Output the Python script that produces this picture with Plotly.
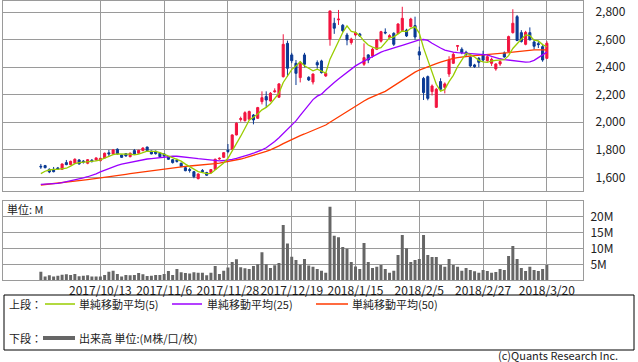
import plotly.graph_objects as go

W, H = 638, 362
def px(x): return x / W
def py(y): return 1 - y / H

dates = [
    "2017/9/22", "2017/9/25", "2017/9/26", "2017/9/27", "2017/9/28", "2017/9/29",
    "2017/10/2", "2017/10/3", "2017/10/4", "2017/10/5", "2017/10/6",
    "2017/10/10", "2017/10/11", "2017/10/12", "2017/10/13",
    "2017/10/16", "2017/10/17", "2017/10/18", "2017/10/19", "2017/10/20",
    "2017/10/23", "2017/10/24", "2017/10/25", "2017/10/26", "2017/10/27",
    "2017/10/30", "2017/10/31", "2017/11/1", "2017/11/2", "2017/11/6",
    "2017/11/7", "2017/11/8", "2017/11/9", "2017/11/10",
    "2017/11/13", "2017/11/14", "2017/11/15", "2017/11/16", "2017/11/17",
    "2017/11/20", "2017/11/21", "2017/11/22", "2017/11/24", "2017/11/27", "2017/11/28",
    "2017/11/29", "2017/11/30", "2017/12/1",
    "2017/12/4", "2017/12/5", "2017/12/6", "2017/12/7", "2017/12/8",
    "2017/12/11", "2017/12/12", "2017/12/13", "2017/12/14", "2017/12/15",
    "2017/12/18", "2017/12/19", "2017/12/20", "2017/12/21", "2017/12/22",
    "2017/12/25", "2017/12/26", "2017/12/27", "2017/12/28", "2017/12/29",
    "2018/1/4", "2018/1/5", "2018/1/9", "2018/1/10", "2018/1/11", "2018/1/12", "2018/1/15",
    "2018/1/16", "2018/1/17", "2018/1/18", "2018/1/19",
    "2018/1/22", "2018/1/23", "2018/1/24", "2018/1/25", "2018/1/26",
    "2018/1/29", "2018/1/30", "2018/1/31", "2018/2/1", "2018/2/2", "2018/2/5",
    "2018/2/6", "2018/2/7", "2018/2/8", "2018/2/9",
    "2018/2/13", "2018/2/14", "2018/2/15", "2018/2/16",
    "2018/2/19", "2018/2/20", "2018/2/21", "2018/2/22", "2018/2/23",
    "2018/2/26", "2018/2/27", "2018/2/28", "2018/3/1", "2018/3/2",
    "2018/3/5", "2018/3/6", "2018/3/7", "2018/3/8", "2018/3/9",
    "2018/3/12", "2018/3/13", "2018/3/14", "2018/3/15", "2018/3/16",
    "2018/3/19", "2018/3/20",
]

opens = [1680, 1685, 1658, 1658, 1668, 1658, 1707, 1692, 1702, 1726,
         1718, 1702, 1724, 1726, 1721, 1741, 1778, 1770, 1804, 1762,
         1772, 1750, 1794, 1775, 1794, 1820, 1791, 1789, 1775, 1770,
         1750, 1728, 1724, 1702, 1670, 1656, 1641, 1590, 1650, 1634,
         1634, 1658, 1733, 1745, 1797, 1804, 1908, 2020, 2012, 2022,
         2053, 2029, 2150, 2187, 2155, 2222, 2182, 2332, 2574, 2490,
         2429, 2325, 2490, 2327, 2293, 2434, 2446, 2337, 2604, 2720,
         2745, 2705, 2635, 2580, 2635, 2642, 2422, 2490, 2482, 2531,
         2590, 2655, 2618, 2647, 2645, 2667, 2671, 2696, 2703, 2513,
         2319, 2332, 2223, 2109, 2296, 2254, 2351, 2429, 2553, 2531,
         2509, 2473, 2417, 2465, 2494, 2448, 2429, 2388, 2424, 2504,
         2514, 2652, 2768, 2652, 2567, 2652, 2584, 2572, 2550, 2465]
highs = [1697, 1690, 1665, 1675, 1675, 1700, 1726, 1721, 1738, 1733,
         1726, 1733, 1733, 1745, 1741, 1780, 1799, 1806, 1811, 1765,
         1775, 1780, 1806, 1800, 1818, 1823, 1794, 1794, 1782, 1775,
         1755, 1733, 1736, 1707, 1675, 1668, 1646, 1629, 1660, 1640,
         1660, 1736, 1745, 1782, 1842, 1912, 2000, 2041, 2080, 2085,
         2060, 2112, 2225, 2225, 2220, 2247, 2285, 2640, 2594, 2505,
         2453, 2445, 2505, 2335, 2355, 2450, 2455, 2365, 2810, 2760,
         2817, 2715, 2650, 2615, 2660, 2650, 2574, 2495, 2540, 2605,
         2665, 2683, 2640, 2655, 2720, 2840, 2680, 2760, 2768, 2550,
         2330, 2340, 2275, 2250, 2320, 2290, 2480, 2510, 2562, 2545,
         2520, 2480, 2425, 2475, 2520, 2490, 2470, 2430, 2450, 2515,
         2630, 2822, 2780, 2670, 2665, 2690, 2600, 2590, 2570, 2590]
lows = [1661, 1665, 1630, 1636, 1655, 1655, 1688, 1688, 1697, 1692,
        1700, 1695, 1707, 1722, 1716, 1738, 1750, 1765, 1765, 1741,
        1750, 1745, 1765, 1772, 1790, 1790, 1767, 1765, 1741, 1745,
        1726, 1700, 1707, 1675, 1644, 1634, 1593, 1585, 1634, 1610,
        1629, 1653, 1728, 1740, 1775, 1800, 1905, 2005, 2005, 2017,
        1985, 2025, 2130, 2105, 2150, 2215, 2178, 2325, 2332, 2430,
        2271, 2290, 2400, 2300, 2275, 2390, 2355, 2330, 2557, 2643,
        2708, 2655, 2560, 2565, 2625, 2620, 2410, 2430, 2470, 2525,
        2580, 2640, 2610, 2555, 2640, 2660, 2620, 2690, 2600, 2453,
        2162, 2160, 2195, 2105, 2230, 2210, 2330, 2425, 2520, 2495,
        2480, 2400, 2395, 2400, 2445, 2440, 2410, 2375, 2410, 2470,
        2510, 2645, 2590, 2580, 2560, 2595, 2530, 2540, 2440, 2460]
closes = [1676, 1670, 1639, 1641, 1661, 1697, 1692, 1716, 1731, 1697,
          1712, 1728, 1716, 1741, 1738, 1775, 1770, 1799, 1770, 1745,
          1755, 1775, 1770, 1796, 1813, 1794, 1770, 1772, 1750, 1755,
          1731, 1707, 1716, 1678, 1648, 1650, 1605, 1624, 1640, 1615,
          1656, 1731, 1738, 1779, 1788, 1908, 1993, 2027, 2070, 2078,
          2017, 2107, 2179, 2162, 2211, 2228, 2279, 2567, 2393, 2448,
          2356, 2436, 2422, 2308, 2351, 2417, 2361, 2356, 2810, 2684,
          2750, 2666, 2599, 2605, 2652, 2628, 2470, 2453, 2531, 2599,
          2659, 2650, 2630, 2567, 2715, 2756, 2628, 2751, 2620, 2489,
          2216, 2174, 2264, 2240, 2240, 2279, 2453, 2494, 2557, 2506,
          2494, 2410, 2405, 2436, 2453, 2477, 2458, 2424, 2441, 2475,
          2623, 2720, 2595, 2587, 2654, 2600, 2553, 2565, 2453, 2575]

# volume, millions of shares
volume = [2.7, 1.15, 1.56, 1.15, 1.46, 1.77, 1.9, 1.67, 2.0, 1.25,
          1.46, 1.56, 1.15, 1.15, 1.15, 1.67, 2.7, 3.0, 2.0, 1.15,
          1.67, 1.56, 1.67, 2.3, 1.9, 1.35, 1.46, 1.67, 1.67, 2.0,
          2.9, 1.67, 3.5, 2.5, 2.3, 2.1, 2.5, 2.4, 2.4, 1.56,
          2.4, 4.5, 2.0, 3.0, 4.0, 5.7, 6.6, 4.1, 3.75, 3.5,
          4.5, 5.0, 8.75, 5.0, 3.85, 4.7, 5.4, 17.3, 11.5, 7.4,
          6.35, 4.9, 6.7, 4.6, 4.2, 3.5, 3.0, 2.4, 23.0, 13.9,
          13.5, 10.4, 9.9, 5.7, 4.3, 3.5, 11.7, 5.7, 3.85, 4.2,
          4.8, 3.5, 2.4, 3.0, 7.9, 14.2, 10.0, 5.7, 6.35, 6.7,
          14.2, 7.9, 7.3, 7.3, 4.8, 4.2, 6.7, 4.8, 4.2, 3.0,
          3.85, 3.2, 2.8, 2.4, 3.2, 2.9, 2.4, 2.6, 3.5, 3.2,
          7.6, 10.7, 6.7, 3.85, 2.9, 4.2, 3.2, 2.9, 3.5, 4.8]

# moving averages (first MA5 values depend on earlier closes)
ma5_head = [1627, 1644, 1653, 1658]
ma25 = [1549, 1550, 1551, 1553, 1556, 1562, 1568, 1573, 1580, 1588,
        1596, 1604, 1612, 1625, 1639, 1652, 1665, 1676, 1687, 1696,
        1703, 1710, 1717, 1724, 1729, 1733, 1736, 1740, 1745, 1749,
        1752, 1753, 1753, 1751, 1748, 1745, 1740, 1736, 1732, 1727,
        1723, 1721, 1720, 1722, 1725, 1730, 1737, 1745, 1755, 1765,
        1775, 1785, 1800, 1815, 1835, 1860, 1888, 1920, 1950, 1980,
        2010, 2050, 2090, 2130, 2165, 2190, 2205, 2235, 2265, 2290,
        2315, 2340, 2365, 2390, 2410, 2428, 2445, 2462, 2480, 2495,
        2510, 2522, 2530, 2540, 2550, 2560, 2570, 2580, 2592, 2600,
        2602, 2595, 2575, 2555, 2540, 2525, 2515, 2510, 2506, 2504,
        2502, 2500, 2498, 2496, 2494, 2490, 2480, 2470, 2462, 2456,
        2452, 2447, 2441, 2439, 2438, 2440, 2450, 2470, 2490, 2510]
ma50 = [1544, 1547, 1550, 1553, 1556, 1559, 1563, 1567, 1571, 1575,
        1579, 1583, 1587, 1590, 1593, 1598, 1604, 1610, 1614, 1618,
        1622, 1627, 1631, 1635, 1640, 1644, 1648, 1652, 1656, 1661,
        1666, 1671, 1676, 1678, 1680, 1682, 1684, 1686, 1689, 1692,
        1695, 1699, 1703, 1708, 1714, 1720, 1726, 1733, 1741, 1750,
        1758, 1767, 1777, 1788, 1800, 1813, 1828, 1845, 1860, 1876,
        1890, 1903, 1915, 1927, 1940, 1953, 1966, 1980, 2000, 2020,
        2040, 2060, 2078, 2098, 2118, 2138, 2155, 2172, 2187, 2200,
        2212, 2225, 2245, 2265, 2285, 2307, 2328, 2348, 2365, 2380,
        2393, 2405, 2416, 2427, 2438, 2448, 2458, 2465, 2471, 2476,
        2479, 2482, 2485, 2487, 2489, 2491, 2493, 2496, 2499, 2502,
        2506, 2510, 2514, 2518, 2522, 2525, 2526, 2526, 2526, 2527]

ma5 = ma5_head + [sum(closes[i - 4:i + 1]) / 5 for i in range(4, len(closes))]

tick_dates = ["2017/10/13", "2017/11/6", "2017/11/28", "2017/12/19",
              "2018/1/15", "2018/2/5", "2018/2/27", "2018/3/20"]
price_ticks = [1600, 1800, 2000, 2200, 2400, 2600, 2800]
vol_ticks = [5, 10, 15, 20]
vol_tick_text = ["5M", "10M", "15M", "20M"]

UP = "#f2143f"
DN = "#0b3a94"
C5 = "#99cc00"
C25 = "#9b00ff"
C50 = "#ff3a00"
VOLC = "#666666"
GRID = "#9a9a9a"
FONT = "Noto Sans CJK JP"

fig = go.Figure()
fig.add_trace(go.Candlestick(
    x=dates, open=opens, high=highs, low=lows, close=closes,
    increasing=dict(line=dict(color=UP, width=1), fillcolor=UP),
    decreasing=dict(line=dict(color=DN, width=1), fillcolor=DN),
    whiskerwidth=0, xaxis="x", yaxis="y", showlegend=False))
for vals, col in [(ma50, C50), (ma25, C25), (ma5, C5)]:
    fig.add_trace(go.Scatter(x=dates, y=vals, mode="lines",
                             line=dict(color=col, width=1.3),
                             xaxis="x", yaxis="y", showlegend=False))
fig.add_trace(go.Bar(x=dates, y=volume, marker=dict(color=VOLC, line=dict(width=0)),
                     width=0.7, xaxis="x2", yaxis="y2", showlegend=False))

xr = [-8.9, 127.5]
xcommon = dict(type="category", categoryorder="array", categoryarray=dates,
               range=xr, showgrid=True, gridcolor=GRID, gridwidth=1,
               showline=True, mirror=True, linecolor=GRID, linewidth=1,
               tickvals=tick_dates, ticks="", zeroline=False, automargin=False,
               tickangle=0, domain=[px(3), px(583)], fixedrange=True)

fig.update_layout(
    width=W, height=H, margin=dict(l=0, r=0, t=0, b=0, autoexpand=False),
    paper_bgcolor="white", plot_bgcolor="white",
    font=dict(family=FONT, size=12, color="#222222"),
    bargap=0.3,
    xaxis=dict(**xcommon, anchor="y", showticklabels=False,
               rangeslider=dict(visible=False)),
    xaxis2=dict(**xcommon, anchor="y2", showticklabels=True, ticklabelstandoff=-1,
                ticktext=tick_dates, tickfont=dict(size=12, family=FONT)),
    yaxis=dict(domain=[py(190.5), py(1)], range=[1504, 2882], side="right",
               tickvals=price_ticks, tickformat=",d", showgrid=True,
               gridcolor=GRID, showline=True, mirror=True, linecolor=GRID,
               zeroline=False, ticks="", ticklabelstandoff=9, automargin=False,
               tickfont=dict(size=12, family=FONT), anchor="x", fixedrange=True),
    yaxis2=dict(domain=[py(280.3), py(201)], range=[0, 24.8], side="right",
                tickvals=vol_ticks, ticktext=vol_tick_text, showgrid=True,
                gridcolor=GRID, showline=True, mirror=True, linecolor=GRID,
                zeroline=False, ticks="", ticklabelstandoff=4, automargin=False,
                tickfont=dict(size=12, family=FONT), anchor="x2", fixedrange=True),
)

shapes = [
    dict(type="rect", xref="paper", yref="paper", x0=px(4), x1=px(634),
         y0=py(350), y1=py(295), line=dict(color="black", width=1)),
    dict(type="line", xref="paper", yref="paper", x0=px(45), x1=px(75),
         y0=py(304), y1=py(304), line=dict(color=C5, width=1.5)),
    dict(type="line", xref="paper", yref="paper", x0=px(172), x1=px(202),
         y0=py(304), y1=py(304), line=dict(color=C25, width=1.5)),
    dict(type="line", xref="paper", yref="paper", x0=px(316), x1=px(348),
         y0=py(304), y1=py(304), line=dict(color=C50, width=1.5)),
    dict(type="line", xref="paper", yref="paper", x0=px(43), x1=px(75),
         y0=py(338), y1=py(338), line=dict(color=VOLC, width=4)),
]
fig.update_layout(shapes=shapes)

def note(text, x, y, anchor="left", size=11):
    return dict(text=text, xref="paper", yref="paper", x=px(x), y=py(y),
                xanchor=anchor, yanchor="middle", showarrow=False, borderpad=0,
                font=dict(family=FONT, size=size, color="#222222"))

fig.update_layout(annotations=[
    note("単位: M", 6, 209, size=11),
    note("上段：", 8, 304),
    note("単純移動平均(5)", 78, 304),
    note("単純移動平均(25)", 206, 304),
    note("単純移動平均(50)", 351, 304),
    note("下段：", 8, 338),
    note("出来高 単位:(M株/口/枚)", 78, 338),
    note("(c)Quants Research Inc.", 619, 355, anchor="right", size=11),
])

fig.write_html("out.html", config={"displayModeBar": False, "staticPlot": True},
               post_script="document.body.style.margin='0';document.body.style.overflow='hidden';")
